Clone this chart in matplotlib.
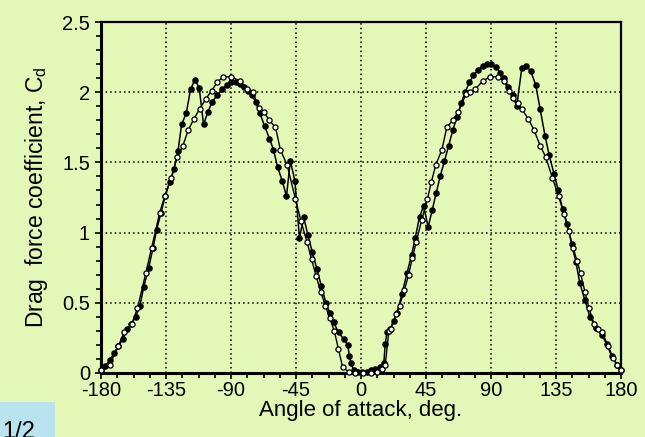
import matplotlib
matplotlib.use("Agg")
import matplotlib.pyplot as plt
from matplotlib.ticker import MultipleLocator, FuncFormatter
from matplotlib.patches import Rectangle

plt.rcParams['font.family'] = ['Liberation Sans', 'DejaVu Sans']
plt.rcParams['mathtext.default'] = 'regular'

# Filled-circle series
filled_angle = [-180, -177, -174, -171, -168, -165, -162, -159, -156, -153, -150.5, -147, -144, -141.5,
                -138.5, -135.5, -132.5, -129.5, -126.7, -124.2, -121, -118, -115, -112, -109, -106,
                -103, -99.5, -96.3, -93, -90, -86.7, -83.5, -81, -78.5, -75.3, -73, -70, -66.8, -63.4,
                -60.6, -57.8, -54.6, -51.6, -48.9, -45.8, -42.6, -39.7, -36.7, -33.7, -30.5, -27.5,
                -24.3, -21.7, -19, -15.5, -12, -9.2, -8, -7, -5, -2, 1, 4, 7, 10, 13, 15.8, 16.8, 18,
                20, 22.5, 25, 28.3, 31.8, 35, 37.5, 40.5, 43.3, 46.5, 49.3, 52, 54.8, 57.8, 60.7, 63.6,
                66.3, 69.3, 72.1, 75, 77.8, 81.3, 84.3, 87.1, 90, 93.3, 96.3, 99, 102, 105, 107.8,
                111.3, 114.2, 117.5, 121, 124, 127.4, 130.3, 133.6, 136.6, 139.5, 142.8, 145.8, 148.8,
                151.5, 155, 158.5, 163, 166.6, 170, 173.5, 177, 180]
filled_cd = [0.02, 0.05, 0.09, 0.14, 0.19, 0.24, 0.31, 0.35, 0.40, 0.48, 0.61, 0.75, 0.89, 1.02,
             1.14, 1.26, 1.36, 1.45, 1.58, 1.77, 1.85, 2.02, 2.09, 2.03, 1.77, 1.86, 1.93, 1.98, 2.02,
             2.05, 2.07, 2.07, 2.06, 2.04, 2.01, 1.98, 1.93, 1.85, 1.76, 1.67, 1.59, 1.47, 1.37, 1.26,
             1.51, 1.37, 0.96, 1.11, 0.98, 0.86, 0.74, 0.62, 0.50, 0.43, 0.36, 0.29, 0.24, 0.20, 0.12,
             0.07, 0.02, 0.01, 0.01, 0.01, 0.02, 0.03, 0.04, 0.07, 0.21, 0.29, 0.31, 0.37, 0.43, 0.56,
             0.71, 0.84, 0.96, 1.11, 1.19, 1.04, 1.16, 1.28, 1.40, 1.51, 1.62, 1.73, 1.82, 1.92, 2.00,
             2.07, 2.12, 2.16, 2.19, 2.20, 2.20, 2.18, 2.14, 2.10, 2.04, 1.98, 1.90, 2.17, 2.19, 2.15,
             2.05, 1.88, 1.69, 1.55, 1.42, 1.30, 1.17, 1.06, 0.92, 0.79, 0.64, 0.52, 0.40, 0.32, 0.27,
             0.21, 0.12, 0.06, 0.02]

# Open-circle series
open_angle = [-180, -174, -168, -164, -158.7, -154.8, -149, -145, -139.4, -135.9, -131.3, -127.2,
              -123.3, -119.6, -115.7, -111.7, -107.6, -103.5, -99.5, -95.6, -89.8, -84, -78.8, -74.9,
              -70.8, -67.3, -63.5, -59.2, -55.8, -51.1, -45.4, -41.5, -37.3, -34.2, -31.1, -27.9,
              -24.7, -21.6, -18.5, -15.6, -12.7, -8.6, -3.9, 1.4, 6.9, 11, 14.5, 16.8, 19.3, 20.7,
              24.4, 26.7, 30, 33, 35.5, 38.2, 42, 46, 48.7, 51.7, 56, 59.4, 63.5, 67.4, 72.8, 75.5,
              79, 84.3, 89.4, 95.1, 99, 102.5, 105.5, 108.5, 111.3, 115.8, 119.8, 124, 127.8, 132.5,
              136.8, 140.6, 143.8, 146.9, 149.5, 152, 155, 157.8, 161.4, 164, 166.9, 171.1, 174.5,
              177.3, 180]
open_cd = [0.02, 0.06, 0.19, 0.29, 0.35, 0.46, 0.71, 0.89, 1.14, 1.26, 1.39, 1.54, 1.62, 1.73, 1.81,
           1.88, 1.95, 2.01, 2.07, 2.11, 2.11, 2.08, 2.02, 2.00, 1.89, 1.86, 1.80, 1.75, 1.59, 1.48,
           1.24, 1.08, 0.93, 0.81, 0.69, 0.58, 0.48, 0.39, 0.30, 0.17, 0.04, 0.01, 0.00, 0.00, 0.00,
           0.01, 0.03, 0.06, 0.30, 0.31, 0.42, 0.48, 0.59, 0.70, 0.82, 0.93, 1.09, 1.24, 1.36, 1.48,
           1.59, 1.75, 1.80, 1.86, 1.99, 2.00, 2.02, 2.08, 2.11, 2.11, 2.08, 2.01, 1.96, 1.92, 1.88,
           1.81, 1.73, 1.62, 1.54, 1.39, 1.26, 1.13, 1.01, 0.89, 0.80, 0.71, 0.58, 0.46, 0.35, 0.31,
           0.29, 0.19, 0.11, 0.06, 0.02]

x_ticks = [-180, -135, -90, -45, 0, 45, 90, 135, 180]
y_ticks = [0, 0.5, 1, 1.5, 2, 2.5]

BG = '#e3f7b6'
W, H = 645, 437
fig = plt.figure(figsize=(W / 100, H / 100), dpi=100, facecolor=BG)
ax = fig.add_axes([101 / W, 1 - 373 / H, 520 / W, 351 / H], facecolor=BG)

ax.plot(filled_angle, filled_cd, color='black', lw=1.1, marker='o', ms=3.7,
        mfc='black', mec='black', zorder=3, clip_on=False)
ax.plot(open_angle, open_cd, color='black', lw=1.0, marker='o', ms=3.7,
        mfc='white', mec='black', mew=0.9, zorder=4, clip_on=False)

ax.set_xlim(-180, 180)
ax.set_ylim(0, 2.5)
ax.set_xticks(x_ticks)
ax.set_yticks(y_ticks)
ax.xaxis.set_minor_locator(MultipleLocator(11.25))
ax.yaxis.set_minor_locator(MultipleLocator(0.1))
ax.yaxis.set_major_formatter(FuncFormatter(lambda v, p: '%g' % v))
ax.xaxis.set_major_formatter(FuncFormatter(lambda v, p: '%g' % v))
ax.tick_params(which='both', direction='out', width=1.2, labelsize=14.5, color='black')
ax.tick_params(which='major', length=4)
ax.tick_params(which='minor', length=3.5)
ax.tick_params(axis='x', pad=2)
ax.tick_params(axis='y', pad=4)

ax.grid(True, which='major', color='black', linestyle=(0, (1, 2)), lw=1.1)
ax.set_axisbelow(True)

for side in ['left', 'bottom']:
    ax.spines[side].set_linewidth(2.2)
for side in ['top', 'right']:
    ax.spines[side].set_linewidth(1.6)

ax.set_xlabel('Angle of attack, deg.', fontsize=16, labelpad=0)
ax.set_ylabel('Drag  force coefficient, C$_d$', fontsize=16.5, labelpad=9)

fig.patches.append(Rectangle((0, 0), 55 / W, 35 / H, transform=fig.transFigure,
                             facecolor='#b9e3ef', edgecolor='none', zorder=0))
fig.text(2 / W, 1 - 421 / H, '1/2', fontsize=17, va='top', ha='left', color='black')

fig.savefig('out.png', dpi=100, facecolor=BG)
